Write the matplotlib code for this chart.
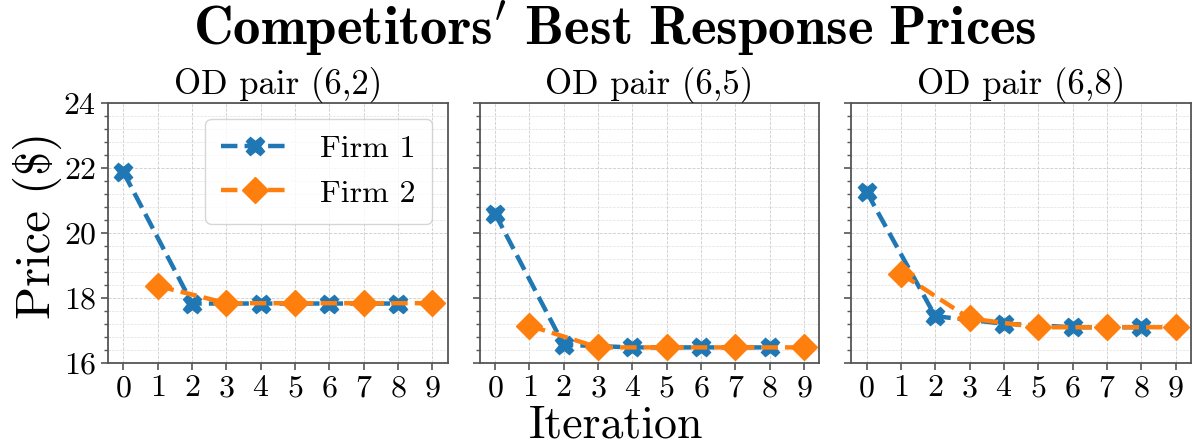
import matplotlib
matplotlib.use("Agg")
import matplotlib.pyplot as plt
from matplotlib.ticker import MultipleLocator

plt.rcParams['font.family'] = ['cmr10', 'DejaVu Serif']
plt.rcParams['mathtext.fontset'] = 'cm'
plt.rcParams['axes.formatter.use_mathtext'] = True

panel_titles = ["OD pair (6,2)", "OD pair (6,5)", "OD pair (6,8)"]
firm1_iters = [0, 2, 4, 6, 8]
firm2_iters = [1, 3, 5, 7, 9]

firm1_prices = [
    [21.87, 17.83, 17.83, 17.83, 17.83],
    [20.60, 16.56, 16.48, 16.48, 16.48],
    [21.27, 17.44, 17.21, 17.10, 17.10],
]
firm2_prices = [
    [18.37, 17.84, 17.84, 17.84, 17.84],
    [17.15, 16.48, 16.48, 16.48, 16.48],
    [18.75, 17.37, 17.10, 17.10, 17.10],
]
x_ticks = list(range(10))
y_ticks = [16, 18, 20, 22, 24]

W, H = 1193, 445
fig, axes = plt.subplots(1, 3, figsize=(W/100, H/100), dpi=100, sharey=True)
fig.subplots_adjust(left=108/W, right=1191/W, top=1-103/H, bottom=1-363/H, wspace=0.093)

for i, ax in enumerate(axes):
    ax.plot(firm1_iters, firm1_prices[i], linestyle='--', color='#1f77b4', marker='X',
            markersize=13, linewidth=3.2, label='Firm 1', zorder=3)
    ax.plot(firm2_iters, firm2_prices[i], linestyle='--', color='#ff7f0e', marker='D',
            markersize=13, linewidth=3.2, label='Firm 2', zorder=3)
    ax.set_title(panel_titles[i], fontsize=25, pad=3)
    ax.set_xticks(x_ticks)
    ax.set_ylim(16, 24)
    ax.set_yticks(y_ticks)
    ax.yaxis.set_minor_locator(MultipleLocator(0.4))
    ax.grid(which='major', linestyle='--', linewidth=0.6, color='#cccccc')
    ax.grid(which='minor', linestyle='--', linewidth=0.5, color='#e0e0e0')
    ax.set_axisbelow(True)
    ax.tick_params(axis='both', which='major', labelsize=23, length=5, width=1.2, color='#555555')
    ax.tick_params(axis='y', which='minor', length=3, width=1.0, color='#555555')
    for sp in ax.spines.values():
        sp.set_color('#555555')
        sp.set_linewidth(1.3)

axes[0].legend(loc='upper right', fontsize=23, handlelength=2.1, borderpad=0.5,
               labelspacing=0.5, handletextpad=1.0, framealpha=0.8)

fig.text(37/W, 220/H, 'Price ($)', fontsize=35, rotation=90, ha='center', va='center')
fig.text(616/W, 1-438/H, 'Iteration', fontsize=33, ha='center', va='baseline')
fig.text(615/W, 1-45/H, r"$\mathbf{Competitors^{\prime}\ Best\ Response\ Prices}$",
         fontsize=39.5, ha='center', va='baseline')

fig.savefig('out.png', dpi=100)
